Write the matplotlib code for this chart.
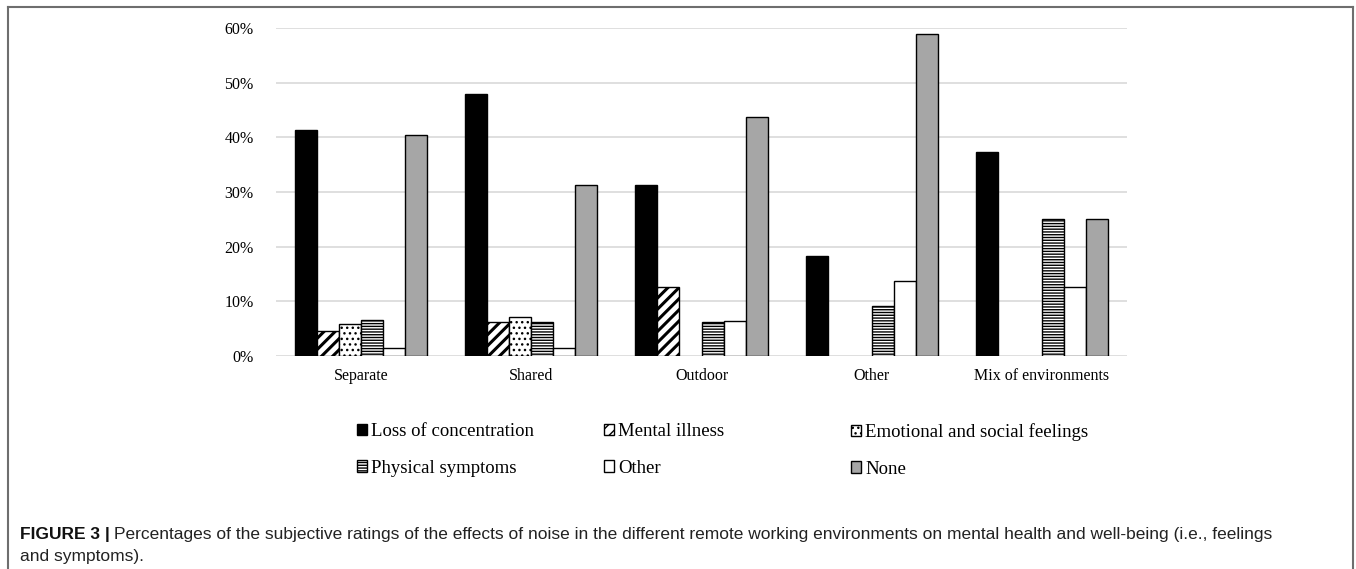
import numpy as np
import matplotlib.pyplot as plt
from matplotlib.lines import Line2D
from matplotlib.patches import Patch
from matplotlib.ticker import FuncFormatter

plt.rcParams['hatch.linewidth'] = 1.0

categories = ["Separate", "Shared", "Outdoor", "Other", "Mix of environments"]
series_names = ["Loss of concentration", "Mental illness", "Emotional and social feelings",
                "Physical symptoms", "Other", "None"]

loss = [41.4, 48.0, 31.2, 18.2, 37.4]
mental = [4.5, 6.2, 12.5, 0, 0]
emotional = [5.9, 7.1, 0, 0, 0]
physical = [6.5, 6.1, 6.2, 9.1, 25.0]
other = [1.5, 1.5, 6.3, 13.6, 12.5]
none = [40.4, 31.2, 43.8, 59.0, 25.0]

values = [loss, mental, emotional, physical, other, none]
faces = ["black", "white", "white", "white", "white", "#a6a6a6"]
hatches = [None, "///", "...", "------", None, None]
hatch_lw = [1.0, 2.2, 1.0, 1.0, 1.0, 1.0]

fig = plt.figure(figsize=(13.56, 5.69), dpi=100)
ax = fig.add_axes([276/1356, 1-355.7/569, (1127-276)/1356, (355.7-28.3)/569])

x = np.arange(len(categories))
w = 22/170
handles = []
for i, vals in enumerate(values):
    lws = [1.0 if v > 0 else 0 for v in vals]
    bars = ax.bar(x + (i - 2.5)*w, vals, w, color=faces[i], edgecolor="black",
                  linewidth=lws, hatch=hatches[i], zorder=3)
    h = Patch(facecolor=faces[i], edgecolor="black", hatch=hatches[i], linewidth=1.0)
    if hasattr(h, "set_hatch_linewidth"):
        h.set_hatch_linewidth(min(hatch_lw[i], 1.5))
        for b in bars:
            b.set_hatch_linewidth(hatch_lw[i])
    handles.append(h)

ax.set_xlim(-0.5, 4.5)
ax.set_ylim(0, 60)
ax.set_yticks(range(0, 61, 10))
ax.yaxis.set_major_formatter(FuncFormatter(lambda v, p: f"{int(v)}%"))
ax.set_xticks(x)
ax.set_xticklabels(categories)
ax.grid(axis="y", color="#d9d9d9", linewidth=1.2, zorder=0)
ax.set_axisbelow(True)
for s in ax.spines.values():
    s.set_visible(False)
ax.tick_params(length=0, labelsize=11.5, labelfontfamily="Liberation Serif")
ax.tick_params(axis="x", pad=9)
ax.tick_params(axis="y", pad=16)

# legend: three columns, two rows
col_x = [357, 604, 851]
for c in range(3):
    idx = [c, c + 3]
    fig.legend([handles[k] for k in idx], [series_names[k] for k in idx],
               loc="upper left", bbox_to_anchor=(col_x[c]/1356, 1-423/569),
               frameon=False, borderpad=0, borderaxespad=0,
               handlelength=0.55, handleheight=0.55, handletextpad=0.2,
               labelspacing=1.05,
               prop={"family": "Liberation Serif", "size": 13.5})

# frame around figure
fc = "#6e6e6e"
fig.add_artist(Line2D([8/1356, 8/1356], [0, 1-6.5/569], color=fc, lw=1.5))
fig.add_artist(Line2D([8/1356, 1353/1356], [1-6.5/569, 1-6.5/569], color=fc, lw=1.5))
fig.add_artist(Line2D([1353/1356, 1353/1356], [0, 1-6.5/569], color=fc, lw=1.5))

# caption
cap_font = {"family": "Liberation Sans", "size": 12.5}
t1 = fig.text(20/1356, 1-535/569, "FIGURE 3 |", fontweight="bold", color="#111111",
              va="center", **cap_font)
fig.canvas.draw()
bb = t1.get_window_extent()
fig.text((bb.x1 + 4)/1356, 1-535/569,
         "Percentages of the subjective ratings of the effects of noise in the different remote "
         "working environments on mental health and well-being (i.e., feelings",
         va="center", color="#222222", **cap_font)
fig.text(20/1356, 1-557/569, "and symptoms).", va="center", color="#222222", **cap_font)

fig.savefig("out.png", dpi=100)
